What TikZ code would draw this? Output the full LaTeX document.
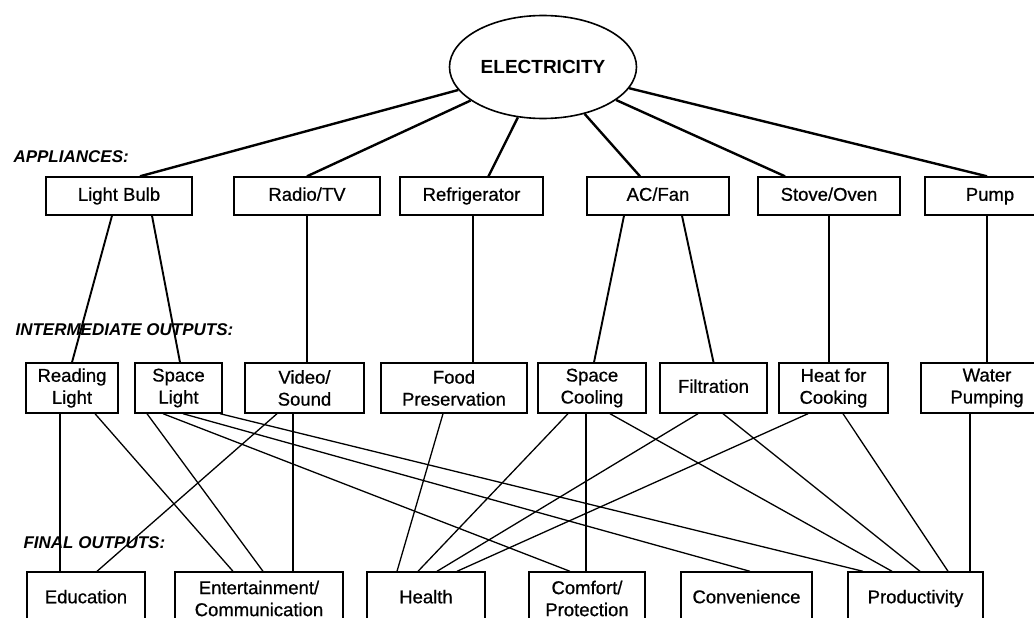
\documentclass[tikz,border=0pt]{standalone}
\usepackage{fontspec}
\setmainfont{Liberation Sans}
\newfontfamily\boxfont[FakeBold=0.7]{Liberation Sans}
\usepackage{xcolor}
\usetikzlibrary{shapes.geometric}

\begin{document}
\begin{tikzpicture}[x=1pt, y=-1pt, font=\boxfont\fontsize{18.5}{22}\selectfont]
  \tikzset{level box/.style={draw, line width=1.4pt, inner sep=0pt, align=center, minimum width=#1},
           one line/.style={text height=13.5pt, text depth=4pt},
           app box/.style={level box=#1, one line, minimum height=38pt},
           mid box/.style={level box=#1, minimum height=50pt},
           end box/.style={level box=#1, minimum height=53pt},
           row label/.style={anchor=west, font=\rmfamily\fontsize{17}{20}\selectfont\bfseries\itshape},
           feed line/.style={line width=2.4pt},
           mid line/.style={line width=1.9pt},
           out line/.style={line width=1.3pt}}
  \clip (0,0) rectangle (1034,618);

  \node [ellipse, draw, line width=1.6pt, minimum width=187pt, minimum height=103pt, inner sep=0pt,
         font=\rmfamily\fontsize{19}{22}\selectfont\bfseries] (elec) at (543,67) {ELECTRICITY};

  \node [row label] (lblapp) at (10,157) {APPLIANCES:};
  \node [row label] (lblmid) at (12,330) {INTERMEDIATE OUTPUTS:};
  \node [row label] (lblend) at (20,543) {FINAL OUTPUTS:};

  % appliances
  \node [app box=146pt] (bulb) at (119,196) {Light Bulb};
  \node [app box=146pt] (radio) at (307,196) {Radio/TV};
  \node [app box=143pt] (fridge) at (471.5,196) {Refrigerator};
  \node [app box=142pt] (fan) at (658,196) {AC/Fan};
  \node [app box=142pt] (stove) at (829,196) {Stove/Oven};
  \node [app box=130pt] (pump) at (990,196) {Pump};

  % intermediate outputs
  \node [mid box=92pt] (reading) at (72,388) {Reading\\Light};
  \node [mid box=87pt] (spacel) at (178.5,388) {Space\\Light};
  \node [mid box=119pt] (video) at (304.5,388) {Video/\\Sound};
  \node [mid box=146pt] (food) at (454,388) {Food\\Preservation};
  \node [mid box=108pt] (scool) at (592,388) {Space\\Cooling};
  \node [mid box=107pt, one line] (filt) at (713.5,388) {Filtration};
  \node [mid box=109pt] (heat) at (833.5,388) {Heat for\\Cooking};
  \node [mid box=132pt] (water) at (987,388) {Water\\Pumping};

  % final outputs
  \node [end box=118pt, one line] (edu) at (86,598.5) {Education};
  \node [end box=168pt] (ent) at (259,598.5) {Entertainment/\\Communication};
  \node [end box=118pt, one line] (health) at (426,598.5) {Health};
  \node [end box=116pt] (comfort) at (587,598.5) {Comfort/\\Protection};
  \node [end box=131pt, one line] (conv) at (746.5,598.5) {Convenience};
  \node [end box=135pt, one line] (prod) at (915.5,598.5) {Productivity};

  % electricity -> appliances
  \draw [feed line] (elec) -- ([xshift=21pt]bulb.north);
  \draw [feed line] (elec) -- (radio.north);
  \draw [feed line] (elec) -- ([xshift=17pt]fridge.north);
  \draw [feed line] (elec) -- ([xshift=-18pt]fan.north);
  \draw [feed line] (elec) -- ([xshift=-44pt]stove.north);
  \draw [feed line] (elec) -- ([xshift=-3pt]pump.north);

  % appliances -> intermediate
  \draw [mid line] ([xshift=-7pt]bulb.south) -- (reading.north);
  \draw [mid line] ([xshift=33pt]bulb.south) -- ([xshift=1.5pt]spacel.north);
  \draw [mid line] (radio.south) -- (radio.south |- video.north);
  \draw [mid line] ([xshift=1.5pt]fridge.south) -- ([xshift=1.5pt]fridge.south |- food.north);
  \draw [mid line] ([xshift=-34pt]fan.south) -- ([xshift=2pt]scool.north);
  \draw [mid line] ([xshift=24pt]fan.south) -- (filt.north);
  \draw [mid line] (stove.south) -- (stove.south |- heat.north);
  \draw [mid line] ([xshift=-3pt]pump.south) -- ([xshift=-3pt]pump.south |- water.north);

  % intermediate -> final
  \draw [out line] ([xshift=-12pt]reading.south) -- ([xshift=-12pt]reading.south |- edu.north);
  \draw [out line] ([xshift=23pt]reading.south) -- ([xshift=-26pt]ent.north);
  \draw [out line] ([xshift=-31.5pt]spacel.south) -- ([xshift=4pt]ent.north);
  \draw [out line] ([xshift=-15.5pt]spacel.south) -- ([xshift=-17pt]comfort.north);
  \draw [out line] ([xshift=4.5pt]spacel.south) -- ([xshift=3.5pt]conv.north);
  \draw [out line] ([xshift=41.5pt]spacel.south) -- ([xshift=-52.5pt]prod.north);
  \draw [out line] ([xshift=-27.5pt]video.south) -- ([xshift=11pt]edu.north);
  \draw [out line] ([xshift=-11.5pt]video.south) -- ([xshift=-11.5pt]video.south |- ent.north);
  \draw [out line] ([xshift=-11pt]food.south) -- ([xshift=-29pt]health.north);
  \draw [out line] ([xshift=-24pt]scool.south) -- ([xshift=-8pt]health.north);
  \draw [out line] ([xshift=-6pt]scool.south) -- ([xshift=-6pt]scool.south |- comfort.north);
  \draw [out line] ([xshift=18pt]scool.south) -- ([xshift=-23.5pt]prod.north);
  \draw [out line] ([xshift=-15.5pt]filt.south) -- ([xshift=11pt]health.north);
  \draw [out line] ([xshift=9.5pt]filt.south) -- ([xshift=4.5pt]prod.north);
  \draw [out line] ([xshift=-25.5pt]heat.south) -- ([xshift=31pt]health.north);
  \draw [out line] ([xshift=9.5pt]heat.south) -- ([xshift=32.5pt]prod.north);
  \draw [out line] ([xshift=-17pt]water.south) -- ([xshift=-17pt]water.south |- prod.north);
\end{tikzpicture}
\end{document}
